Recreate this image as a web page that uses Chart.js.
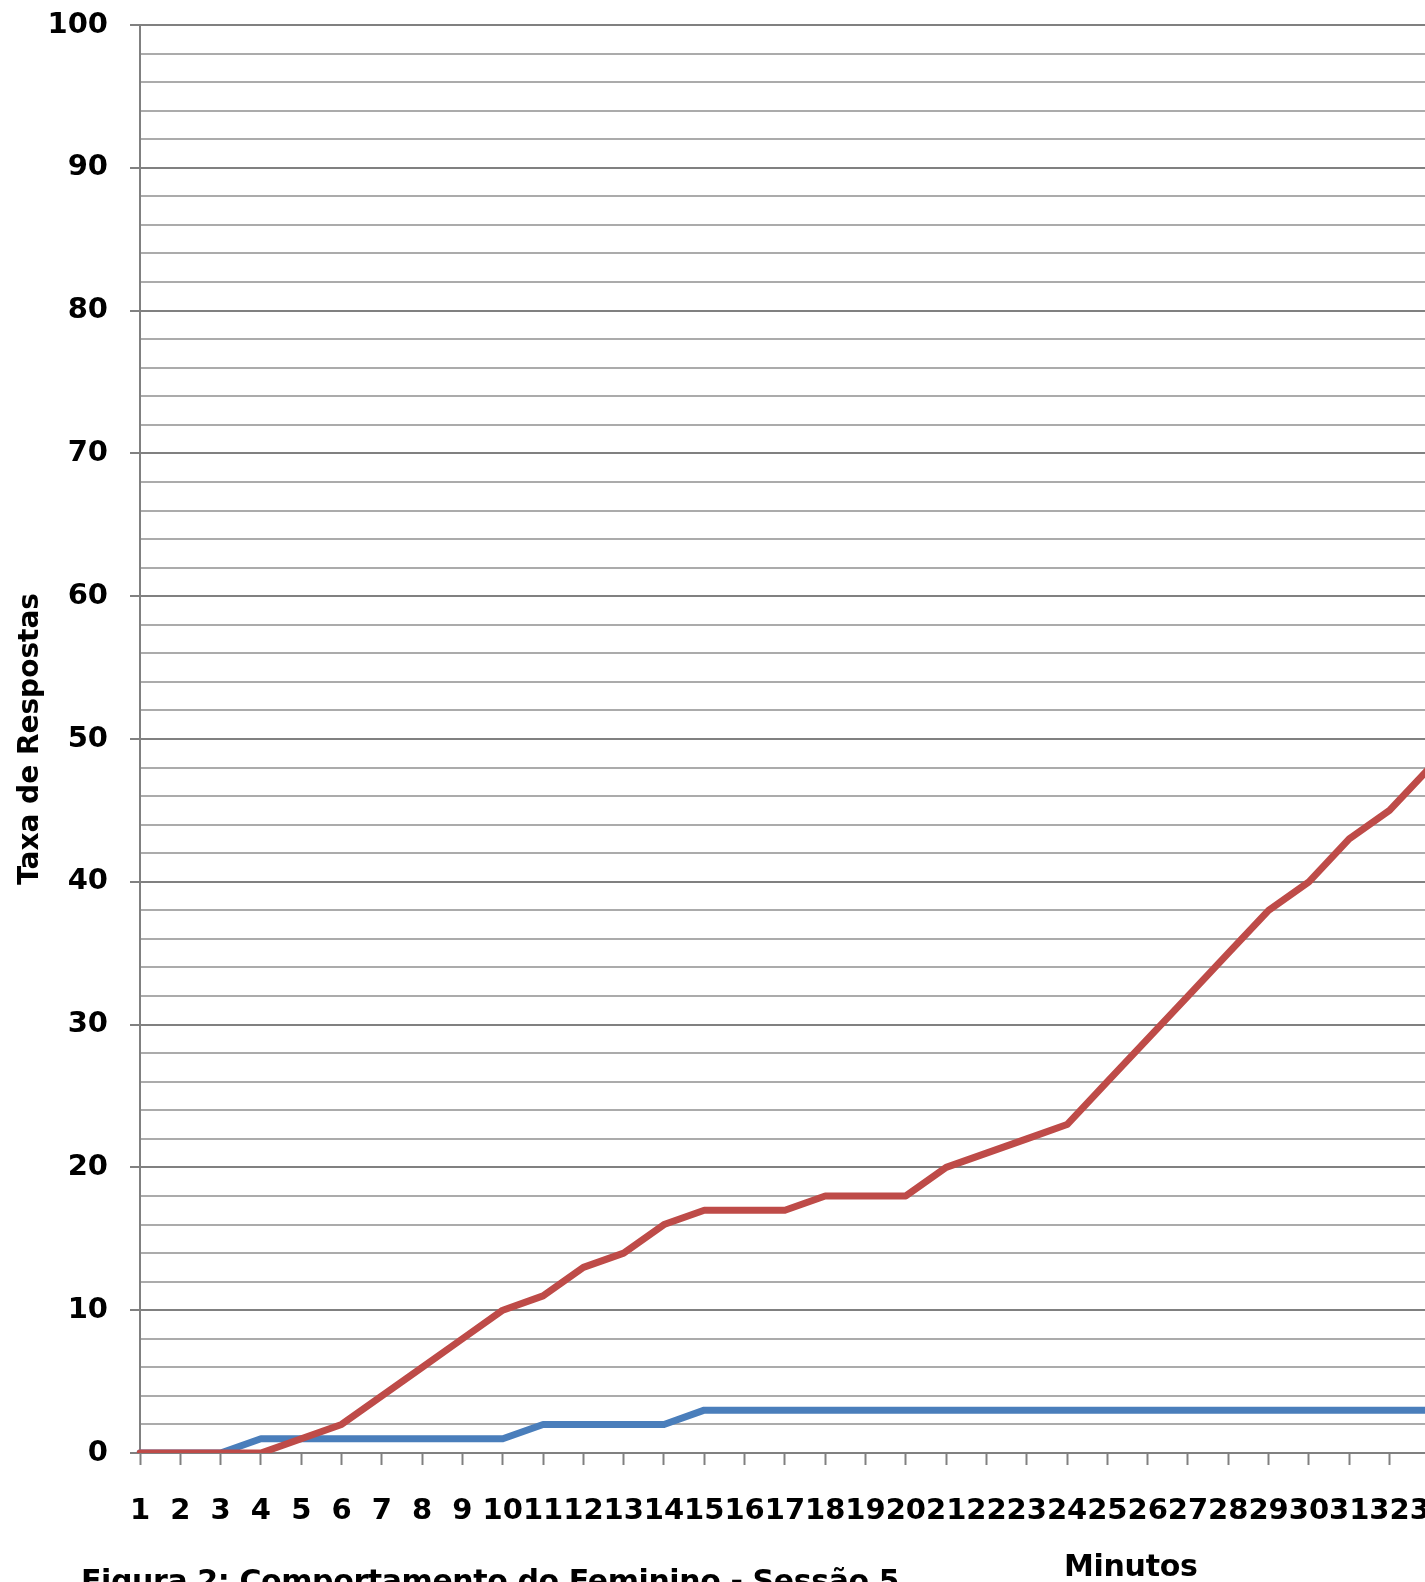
<!DOCTYPE html>
<html lang="pt">
<head>
<meta charset="utf-8">
<title>Comportamento do Feminino - Sessão 5</title>
<script src="https://cdn.jsdelivr.net/npm/chart.js@4/dist/chart.umd.min.js"></script>
<style>
  html, body { margin: 0; padding: 0; background: #ffffff; overflow: hidden; }
  #quadro { position: relative; width: 1425px; height: 1582px; overflow: hidden; background: #ffffff; }
  #grafico { position: absolute; left: 0; top: 0; }
  .rotulo { position: absolute; font-family: "DejaVu Sans", sans-serif; font-weight: bold; color: #000; line-height: 1; white-space: nowrap; }
  #tituloX { left: 1064px; top: 1551px; font-size: 30px; letter-spacing: -0.3px; }
  #legenda { left: 81px; top: 1566px; font-size: 30px; letter-spacing: -0.4px; }
</style>
</head>
<body>
<div id="quadro">
  <canvas id="grafico" width="1479" height="1582"></canvas>
  <div id="tituloX" class="rotulo">Minutos</div>
  <div id="legenda" class="rotulo">Figura 2: Comportamento do Feminino - Sessão 5</div>
</div>
<script>
// Minutos da sessão (eixo X)
const minutos = ['1','2','3','4','5','6','7','8','9','10','11','12','13','14','15','16','17',
                 '18','19','20','21','22','23','24','25','26','27','28','29','30','31','32','33'];

// Taxa acumulada de respostas por minuto
const serieVermelha = [0,0,0,0,1,2,4,6,8,10,11,13,14,16,17,17,17,18,18,18,20,21,22,23,26,29,32,35,38,40,43,45,48];
const serieAzul     = [0,0,0,1,1,1,1,1,1,1,2,2,2,2,3,3,3,3,3,3,3,3,3,3,3,3,3,3,3,3,3,3,3];

// Eixo Y: 0 a 100, linhas principais a cada 10 e secundárias a cada 2
const eixoYMin = 0;
const eixoYMax = 100;
const passoSecundario = 2;
const passoPrincipal = 10;

const corPrincipal = '#808080';
const corSecundaria = '#ababab';
const fonteEixos = { family: '"DejaVu Sans", sans-serif', weight: 'bold', size: 29 };

const ehPrincipal = (v) => v % passoPrincipal === 0;

new Chart(document.getElementById('grafico'), {
  type: 'line',
  data: {
    labels: minutos,
    datasets: [
      {
        label: 'Série 2',
        data: serieVermelha,
        borderColor: '#BE4B48',
        backgroundColor: '#BE4B48',
        borderWidth: 7,
        pointRadius: 0,
        tension: 0,
        borderJoinStyle: 'round',
        borderCapStyle: 'round',
        fill: false
      },
      {
        label: 'Série 1',
        data: serieAzul,
        borderColor: '#4A7EBB',
        backgroundColor: '#4A7EBB',
        borderWidth: 7,
        pointRadius: 0,
        tension: 0,
        borderJoinStyle: 'round',
        borderCapStyle: 'round',
        fill: false
      }
    ]
  },
  options: {
    responsive: false,
    animation: false,
    devicePixelRatio: 1,
    layout: { padding: { top: 25, right: 40, bottom: 0, left: 0 } },
    plugins: {
      legend: { display: false },
      tooltip: { enabled: false },
      title: { display: false }
    },
    scales: {
      x: {
        type: 'category',
        offset: false,
        afterFit: (escala) => { escala.height = 129; },
        grid: {
          drawOnChartArea: false,
          drawTicks: true,
          tickLength: 12,
          tickColor: corPrincipal,
          tickWidth: 2
        },
        border: { display: true, color: corPrincipal, width: 2 },
        ticks: {
          autoSkip: false,
          maxRotation: 0,
          minRotation: 0,
          padding: 29,
          color: '#000000',
          font: fonteEixos
        }
      },
      y: {
        min: eixoYMin,
        max: eixoYMax,
        afterFit: (escala) => {
          escala.width = 140;
          escala.paddingTop = 0;
          escala.paddingBottom = 0;
        },
        grid: {
          drawOnChartArea: true,
          drawTicks: true,
          tickLength: 10,
          lineWidth: 2,
          tickWidth: 2,
          color: (ctx) => ehPrincipal(ctx.tick.value) ? corPrincipal : corSecundaria,
          tickColor: (ctx) => ehPrincipal(ctx.tick.value) ? corPrincipal : 'rgba(0,0,0,0)'
        },
        border: { display: true, color: corPrincipal, width: 2 },
        ticks: {
          stepSize: passoSecundario,
          autoSkip: false,
          padding: 22,
          color: '#000000',
          font: fonteEixos,
          callback: (v) => ehPrincipal(v) ? String(v) : ''
        },
        title: {
          display: true,
          text: 'Taxa de Respostas',
          color: '#000000',
          font: { family: '"DejaVu Sans", sans-serif', weight: 'bold', size: 28 },
          padding: { top: 14, bottom: 0 }
        }
      }
    }
  }
});
</script>
</body>
</html>
